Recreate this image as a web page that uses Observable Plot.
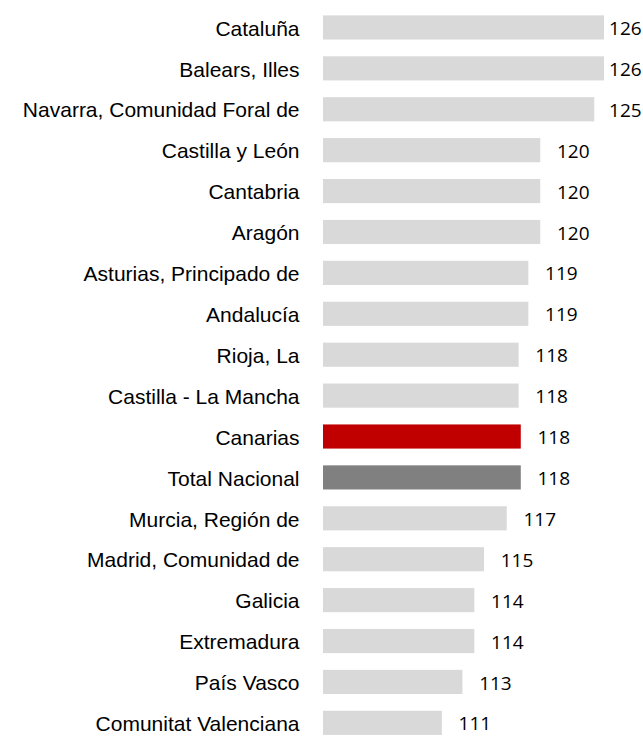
<!DOCTYPE html>
<html><head><meta charset="utf-8">
<script src="https://cdn.jsdelivr.net/npm/d3@7"></script>
<script src="https://cdn.jsdelivr.net/npm/@observablehq/plot@0.6"></script>
<style>body{margin:0;background:#fff}</style>
</head><body><div id="chart"></div>
<script>
const regions = ["Cataluña","Balears, Illes","Navarra, Comunidad Foral de","Castilla y León","Cantabria","Aragón","Asturias, Principado de","Andalucía","Rioja, La","Castilla - La Mancha","Canarias","Total Nacional","Murcia, Región de","Madrid, Comunidad de","Galicia","Extremadura","País Vasco","Comunitat Valenciana"];
const values = [126.0,126.0,125.1,120.1,120.1,120.1,119.0,119.0,118.1,118.1,118.3,118.3,117.0,114.9,114.0,114.0,112.9,111.0];
const highlightRegion = "Canarias";
const totalRegion = "Total Nacional";
const barColors = {base: "#d9d9d9", highlight: "#c00000", total: "#808080"};

const data = regions.map((r, i) => ({region: r, value: values[i]}));
const fillOf = d => d.region === highlightRegion ? barColors.highlight : d.region === totalRegion ? barColors.total : barColors.base;

const chart = Plot.plot({
  width: 643, height: 736,
  marginLeft: 323, marginRight: 39, marginTop: 0, marginBottom: 0,
  x: {domain: [100, 126], axis: null},
  y: {domain: regions, range: [7.0, 743.3], paddingInner: 0.41, paddingOuter: 0.205, round: false, axis: null},
  style: {fontFamily: "'Liberation Sans', Arial, sans-serif", fontSize: "21px", color: "#000", background: "#fff"},
  marks: [
    Plot.barX(data, {x1: 100, x2: "value", y: "region", fill: fillOf}),
    Plot.text(data, {x: d => Math.min(d.value + 1.5, 126.42), y: "region", text: d => String(Math.round(d.value)),
      textAnchor: "start", fontFamily: "'Open Sans', sans-serif", fontSize: 19, dy: 1, fill: "#000"}),
    Plot.axisY({tickSize: 0, tickPadding: 24, fontSize: 21, dy: 1, label: null, fill: "#000"})
  ]
});
document.getElementById("chart").appendChild(chart);
</script>
</body></html>
